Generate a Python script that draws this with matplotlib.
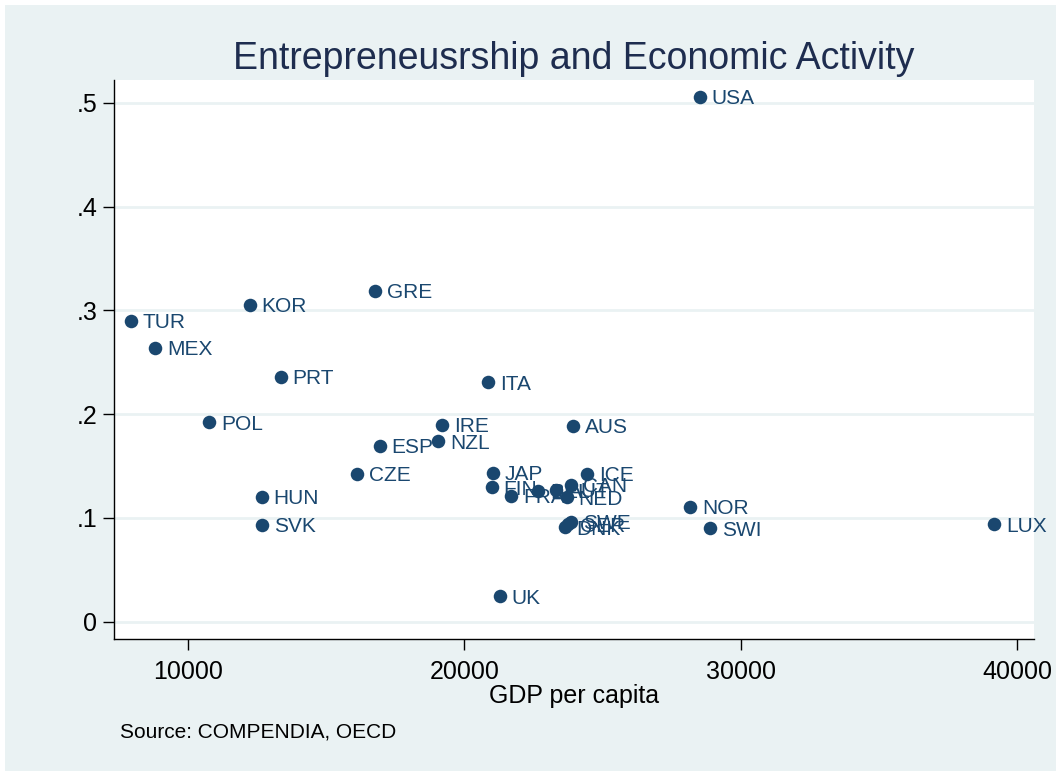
import matplotlib.pyplot as plt
from matplotlib.patches import Rectangle

plt.rcParams['font.family'] = ['Liberation Sans', 'DejaVu Sans']

# country codes, GDP per capita and entrepreneurship rate
paises = ["USA", "GRE", "KOR", "TUR", "MEX", "PRT", "ITA", "POL", "IRE", "AUS",
          "ESP", "NZL", "CZE", "JAP", "ICE", "FIN", "FRA", "BEL", "AUT", "CAN",
          "NED", "DNK", "SWE", "GER", "HUN", "SVK", "NOR", "SWI", "LUX", "UK"]
pib = [28520, 16770, 12250, 7950, 8820, 13370, 20860, 10770, 19190, 23930,
       16950, 19050, 16120, 21040, 24440, 20990, 21690, 22670, 23320, 23860,
       23710, 23640, 23860, 23750, 12680, 12680, 28160, 28880, 39160, 21290]
taxa = [0.506, 0.319, 0.3055, 0.290, 0.264, 0.236, 0.231, 0.192, 0.190, 0.189,
        0.1695, 0.174, 0.1425, 0.1434, 0.1425, 0.1296, 0.1212, 0.1264, 0.127, 0.1318,
        0.120, 0.0913, 0.0962, 0.0942, 0.1206, 0.0933, 0.1109, 0.0901, 0.0939, 0.0248]

fundo = '#EAF2F3'
azul = '#1A476F'

fig = plt.figure(figsize=(10.56, 7.71), dpi=100, facecolor='white')
fig.patches.append(Rectangle((5/1056, 0), 1, 1 - 5/771, transform=fig.transFigure,
                             facecolor=fundo, edgecolor='none', zorder=-10))

ax = fig.add_axes([114/1056, (771-639)/771, (1034-114)/1056, (639-80)/771])
ax.set_facecolor('white')
ax.scatter(pib, taxa, s=95, color=azul, zorder=3, linewidths=0)
for p, x, y in zip(paises, pib, taxa):
    ax.annotate(p, (x, y), xytext=(8.5, -1.5), textcoords='offset points',
                va='center', ha='left', fontsize=15, color=azul, zorder=4)

ax.set_xlim(7335, 40600)
ax.set_ylim(-0.0167, 0.522)
ax.set_xticks([10000, 20000, 30000, 40000])
ax.set_yticks([0, 0.1, 0.2, 0.3, 0.4, 0.5])
ax.set_yticklabels(['0', '.1', '.2', '.3', '.4', '.5'])
ax.tick_params(axis='both', labelsize=18, length=8, width=1, color='black')
ax.tick_params(axis='y', pad=4)
ax.tick_params(axis='x', pad=7)
ax.grid(axis='y', color=fundo, linewidth=2)
ax.set_axisbelow(True)
for lado in ['top', 'right']:
    ax.spines[lado].set_visible(False)
for lado in ['left', 'bottom']:
    ax.spines[lado].set_linewidth(1)

ax.set_xlabel('GDP per capita', fontsize=18, labelpad=0)
ax.set_title('Entrepreneusrship and Economic Activity', fontsize=27,
             color='#1E2D4F', pad=8)
fig.text(120/1056, 1 - 732/771, 'Source: COMPENDIA, OECD', fontsize=15,
         va='center', ha='left')

fig.savefig('out.png', dpi=100, facecolor=fig.get_facecolor())
